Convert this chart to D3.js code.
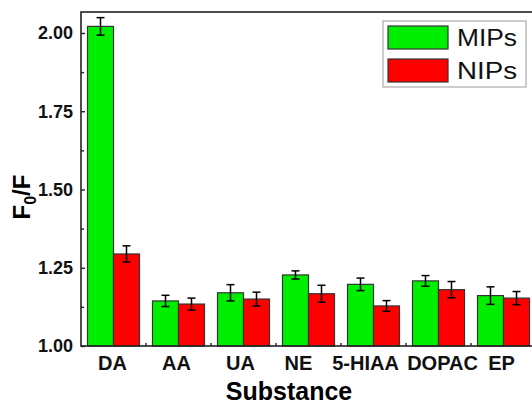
<!DOCTYPE html>
<html>
<head>
<meta charset="utf-8">
<script src="https://cdn.jsdelivr.net/npm/d3@7"></script>
<style>
  body { margin: 0; background: #fff; }
  svg { display: block; font-family: Arial, "Liberation Sans", sans-serif; }
</style>
</head>
<body>
<div id="chart"></div>
<script>
var width = 532;
var height = 405;

// data
var substances = ["DA", "AA", "UA", "NE", "5-HIAA", "DOPAC", "EP"];
var series = ["MIPs", "NIPs"];
var mipValues = [2.021, 1.144, 1.170, 1.227, 1.197, 1.208, 1.161];
var mipErrors = [0.028, 0.018, 0.026, 0.013, 0.020, 0.017, 0.028];
var nipValues = [1.294, 1.134, 1.150, 1.167, 1.128, 1.180, 1.153];
var nipErrors = [0.026, 0.019, 0.022, 0.027, 0.017, 0.026, 0.021];
var yTicks = [1.00, 1.25, 1.50, 1.75, 2.00];
var yMinorTicks = [1.125, 1.375, 1.625, 1.875];

// label nudges (px), the original labels are not exactly centred
var labelNudge = [-1, -2, -3, -10, -8, 4, -2];

var colors = { MIPs: "#00ee00", NIPs: "#ff0000" };

var margin = { top: 12, right: -4, bottom: 59, left: 81 };
var innerW = width - margin.left - margin.right;
var innerH = height - margin.top - margin.bottom;

var svg = d3.select("#chart")
  .append("svg")
  .attr("width", width)
  .attr("height", height);

var g = svg.append("g")
  .attr("transform", "translate(" + margin.left + "," + margin.top + ")");

var x = d3.scaleBand()
  .domain(substances)
  .range([0, innerW])
  .paddingInner(0.2)
  .paddingOuter(0.1);

var x1 = d3.scaleBand()
  .domain(series)
  .range([0, x.bandwidth()]);

var y = d3.scaleLinear()
  .domain([1.0, 2.067])
  .range([innerH, 0]);

// build rows for bars
var rows = [];
substances.forEach(function(s, i) {
  rows.push({ cat: s, ser: "MIPs", v: mipValues[i], e: mipErrors[i] });
  rows.push({ cat: s, ser: "NIPs", v: nipValues[i], e: nipErrors[i] });
});

// bars
g.selectAll("rect.bar")
  .data(rows)
  .enter()
  .append("rect")
  .attr("class", "bar")
  .attr("x", function(d) { return x(d.cat) + x1(d.ser); })
  .attr("y", function(d) { return y(d.v); })
  .attr("width", x1.bandwidth())
  .attr("height", function(d) { return innerH - y(d.v); })
  .style("fill", function(d) { return colors[d.ser]; })
  .style("stroke", "#333")
  .style("stroke-width", 1.2);

// error bars
var err = g.selectAll("g.err")
  .data(rows)
  .enter()
  .append("g")
  .attr("class", "err")
  .attr("transform", function(d) { return "translate(" + (x(d.cat) + x1(d.ser) + x1.bandwidth() / 2) + ",0)"; })
  .style("stroke", "#000")
  .style("stroke-width", 1.5);

err.append("line")
  .attr("y1", function(d) { return y(d.v + d.e); })
  .attr("y2", function(d) { return y(d.v - d.e); });
err.append("line")
  .attr("x1", -4).attr("x2", 4)
  .attr("y1", function(d) { return y(d.v + d.e); })
  .attr("y2", function(d) { return y(d.v + d.e); });
err.append("line")
  .attr("x1", -4).attr("x2", 4)
  .attr("y1", function(d) { return y(d.v - d.e); })
  .attr("y2", function(d) { return y(d.v - d.e); });

// frame
g.append("rect")
  .attr("width", innerW)
  .attr("height", innerH)
  .style("fill", "none")
  .style("stroke", "#222")
  .style("stroke-width", 1.6);

// y axis ticks (inside) from the axis generator
g.append("g")
  .call(d3.axisLeft(y).tickValues(yTicks).tickSizeInner(-4).tickSizeOuter(0).tickFormat(""))
  .call(function(s) { s.select(".domain").remove(); })
  .selectAll("line").style("stroke", "#222").style("stroke-width", 1.4);

g.append("g")
  .call(d3.axisLeft(y).tickValues(yMinorTicks).tickSizeInner(-3).tickSizeOuter(0).tickFormat(""))
  .call(function(s) { s.select(".domain").remove(); })
  .selectAll("line").style("stroke", "#222").style("stroke-width", 1.4);

// y tick labels
var fmt = d3.format(".2f");
g.selectAll("text.ylab")
  .data(yTicks)
  .enter()
  .append("text")
  .attr("class", "ylab")
  .attr("x", -8)
  .attr("y", function(d) { return y(d); })
  .attr("dy", "0.36em")
  .attr("text-anchor", "end")
  .style("font-size", "18px")
  .style("font-weight", "bold")
  .style("fill", "#111")
  .text(fmt);

// x labels
g.selectAll("text.xlab")
  .data(substances)
  .enter()
  .append("text")
  .attr("class", "xlab")
  .attr("x", function(d, i) { return x(d) + x.bandwidth() / 2 + labelNudge[i]; })
  .attr("y", innerH + 24)
  .attr("text-anchor", "middle")
  .style("font-size", "20px")
  .style("font-weight", "bold")
  .style("fill", "#111")
  .text(function(d) { return d; });

// small ticks between groups
var step = x.step();
var boundaries = substances.slice(1).map(function(s) { return x(s) - x.paddingInner() * step / 2; });
g.selectAll("line.sep")
  .data(boundaries)
  .enter()
  .append("line")
  .attr("class", "sep")
  .attr("x1", function(d) { return d; })
  .attr("x2", function(d) { return d; })
  .attr("y1", innerH)
  .attr("y2", innerH - 3)
  .style("stroke", "#222")
  .style("stroke-width", 1.4);

// axis titles
svg.append("text")
  .attr("x", 289)
  .attr("y", 400)
  .attr("text-anchor", "middle")
  .style("font-size", "25px")
  .style("font-weight", "bold")
  .text("Substance");

var yt = svg.append("text")
  .attr("transform", "translate(30,197) rotate(-90)")
  .attr("text-anchor", "middle")
  .style("font-size", "24px")
  .style("font-weight", "bold");
yt.append("tspan").text("F");
yt.append("tspan").attr("dy", 6).style("font-size", "16px").text("0");
yt.append("tspan").attr("dy", -6).text("/F");

// legend
var lg = svg.append("g").attr("transform", "translate(383,21)");
lg.append("rect")
  .attr("width", 143)
  .attr("height", 66)
  .style("fill", "#fff")
  .style("stroke", "#999")
  .style("stroke-width", 1);

var items = lg.selectAll("g.item")
  .data(series)
  .enter()
  .append("g")
  .attr("class", "item")
  .attr("transform", function(d, i) { return "translate(5," + (5 + i * 33) + ")"; });

items.append("rect")
  .attr("width", 60)
  .attr("height", 23)
  .style("fill", function(d) { return colors[d]; })
  .style("stroke", "#333")
  .style("stroke-width", 1.2);

items.append("text")
  .attr("x", 69)
  .attr("y", 20)
  .attr("textLength", 60)
  .attr("lengthAdjust", "spacingAndGlyphs")
  .style("font-size", "23px")
  .style("fill", "#111")
  .text(function(d) { return d; });
</script>
</body>
</html>
